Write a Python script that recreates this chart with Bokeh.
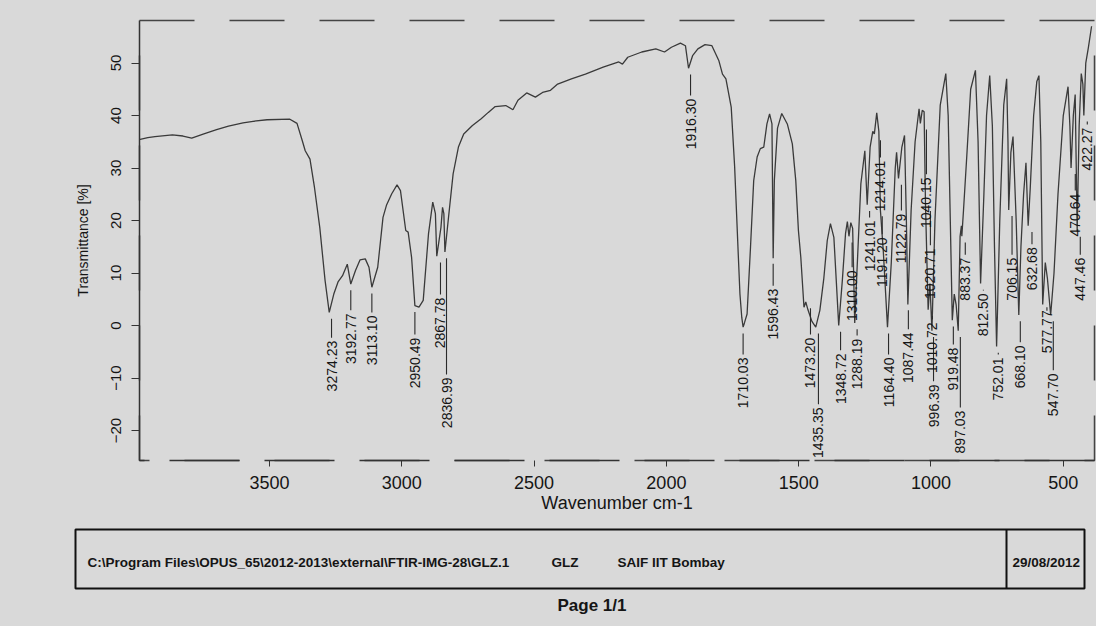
import numpy as np
from bokeh.plotting import figure
from bokeh.models import Range1d, FixedTicker, ColumnDataSource
from bokeh.layouts import column
from bokeh.embed import file_html
from bokeh.resources import INLINE
from bokeh.core.properties import value

# ---------------- data ----------------
wavenumber = [3993, 3960, 3933, 3867, 3827, 3794, 3748, 3700, 3655, 3600, 3562, 3509, 3423, 3396,
              3376, 3365, 3347, 3330, 3310, 3290, 3274.2, 3257, 3241, 3224, 3206, 3192.8, 3175,
              3158, 3138, 3124, 3113.1, 3091, 3071, 3058, 3038, 3018, 3005, 2985, 2976, 2963,
              2950.5, 2935, 2919, 2899, 2883, 2873, 2867.8, 2852, 2846, 2841, 2837, 2822, 2806,
              2786, 2766, 2733, 2700, 2673, 2647, 2607, 2580, 2561, 2528, 2495, 2468, 2438, 2411,
              2359, 2306, 2239, 2180, 2166, 2146, 2093, 2040, 2007, 1981, 1947, 1928, 1916.3,
              1901, 1881, 1854, 1828, 1802, 1788, 1775, 1755, 1742, 1729, 1722, 1715, 1710,
              1705, 1695, 1682, 1670, 1657, 1645, 1632, 1620, 1610, 1601, 1596.4, 1592, 1580,
              1564, 1543, 1524, 1511, 1501, 1492, 1480, 1473.2, 1465, 1450, 1435.4, 1420, 1405,
              1392, 1380, 1367, 1358, 1348.7, 1335, 1323, 1316, 1310, 1303, 1296, 1288.2, 1280,
              1265, 1250, 1241, 1230, 1220, 1214, 1205, 1197, 1191.2, 1180, 1164.4, 1150, 1135,
              1130, 1122.8, 1110, 1100, 1093, 1087.4, 1075, 1060, 1045, 1040.2, 1033, 1026,
              1020.7, 1010.7, 1004, 996.4, 985, 965, 944, 935, 925, 919.5, 912, 905, 897, 890,
              885, 883.4, 877, 865, 850, 832, 822, 812.5, 800, 790, 778, 768, 760, 752, 740,
              725, 714, 709, 706.2, 698, 690, 678, 668.1, 660, 650, 641, 632.7, 625, 612, 600,
              592, 585, 577.8, 568, 560, 547.7, 535, 520, 500, 482, 475, 470.6, 462, 455, 447.5,
              440, 432, 426, 422.3, 415, 405, 393]
transmittance = [35.4, 35.8, 36.0, 36.3, 36.1, 35.7, 36.5, 37.3, 38.0, 38.6, 38.9, 39.2, 39.3, 38.5,
                 35.2, 33.3, 31.7, 26.3, 18.7, 8.6, 2.5, 6.0, 8.3, 9.5, 11.7, 7.9, 10.5,
                 12.5, 12.7, 11.1, 7.3, 11.1, 20.6, 22.9, 25.1, 26.8, 25.7, 18.1, 17.8, 13.0,
                 3.8, 3.5, 4.8, 17.5, 23.5, 21.3, 13.2, 18.7, 22.5, 21.3, 14.0, 21.3, 28.9,
                 34.0, 36.5, 38.1, 39.4, 40.6, 41.7, 41.9, 41.1, 42.9, 44.3, 43.5, 44.4, 44.8, 46.0,
                 47.0, 47.9, 49.2, 50.2, 49.8, 51.1, 52.1, 52.7, 52.1, 53.0, 53.8, 53.3, 49.0,
                 51.4, 52.7, 53.5, 53.3, 50.5, 47.9, 47.0, 41.6, 30.2, 14.3, 6.0, 1.5, -0.3,
                 0.5, 2.2, 15.0, 27.6, 32.1, 33.7, 34.0, 38.4, 40.3, 38.4, 12.8, 27.6, 37.6,
                 40.4, 38.4, 34.6, 27.6, 18.1, 13.0, 3.5, 4.5, 3.0, 0.8, -0.3, 2.9, 9.0,
                 16.2, 19.4, 16.8, 8.6, 0.0, 8.6, 17.5, 19.8, 17.0, 19.6, 18.5, 0.5, 10.0,
                 27.0, 33.3, 23.0, 34.0, 37.0, 36.5, 40.5, 37.0, 22.0, 14.0, -0.3, 12.0, 30.0,
                 33.0, 28.0, 34.0, 36.2, 20.0, 4.0, 22.0, 35.0, 41.3, 38.5, 41.0, 40.7,
                 23.0, 3.0, 8.0, -1.0, 20.0, 42.0, 48.0, 40.0, 15.0, 1.0, 6.0, 4.0, -1.0, 17.0,
                 19.0, 17.0, 22.0, 32.0, 45.0, 48.6, 35.0, 8.0, 25.0, 40.0, 47.6, 38.0, 15.0, -4.0, 20.0,
                 42.0, 47.0, 35.0, 22.0, 33.0, 36.0, 20.0, 2.0, 15.0, 25.0, 31.0, 19.0, 26.0, 40.0, 46.5,
                 47.6, 35.0, 4.0, 12.0, 9.0, 2.0, 10.0, 25.0, 40.0, 45.5, 38.0, 30.0, 40.0, 44.0, 18.0,
                 38.0, 48.0, 46.0, 40.0, 50.0, 53.0, 57.0]

peak_text = ["3274.23", "3192.77", "3113.10", "2950.49", "2867.78", "2836.99", "1916.30",
             "1710.03", "1596.43", "1473.20", "1435.35", "1348.72", "1310.00", "1288.19",
             "1241.01", "1214.01", "1191.20", "1164.40", "1122.79", "1087.44", "1040.15",
             "1020.71", "1010.72", "996.39", "919.48", "897.03", "883.37", "812.50", "752.01",
             "706.15", "668.10", "632.68", "577.77", "547.70", "470.64", "447.46", "422.27"]
peak_wn = [float(t) for t in peak_text]

# label layout (offset of label column in cm-1, label top in % units)
label_shift = [-8.7, 0, 0, 0, -14, -6, -7.6, 0, 0, -17.8, -10, -7, -12, -9, -9, -23, -7, -4,
               -11, -2, -23, -18.5, -16, -6, -4, -8, -13, -10.6, -6.4, -12.5, -5.7, -14.4,
               -16, -10, -16, -11.7, -13]
label_top = [-2.9, 2.3, 1.9, -2.3, 5.3, -9.9, 43.2, -6.1, 7.0, -2.3, -15.6, -5.3, 10.5, -2.5,
             20.0, 31.4, 16.8, -6.1, 21.3, -1.3, 28.2, 14.7, 0.6, -11.2, -4.2, -16.2, 12.9,
             6.1, -6.1, 12.9, -3.8, 14.9, 2.9, -9.1, 25.1, 12.9, 37.7]

x_ticks = [3500, 3000, 2500, 2000, 1500, 1000, 500]
y_ticks = [-20, -10, 0, 10, 20, 30, 40, 50]

footer_path = "C:\\Program Files\\OPUS_65\\2012-2013\\external\\FTIR-IMG-28\\GLZ.1"
footer_sample = "GLZ"
footer_lab = "SAIF IIT Bombay"
footer_date = "29/08/2012"
footer_page = "Page 1/1"

# ---------------- styling ----------------
BG = "#d9d9d9"
INK = "#151515"
FONT = "Liberation Sans"

p = figure(width=1096, height=523, output_backend="svg", toolbar_location=None,
           x_range=Range1d(3991.3, 382.0), y_range=Range1d(-25.7, 58.1),
           min_border_left=139, min_border_right=2, min_border_top=20, min_border_bottom=63)
p.frame_align = False
p.background_fill_color = BG
p.border_fill_color = BG
p.grid.visible = False
p.outline_line_color = "#444444"
p.outline_line_width = 1.5
p.outline_line_dash = "55 35"

p.xaxis.ticker = FixedTicker(ticks=x_ticks)
p.yaxis.ticker = FixedTicker(ticks=y_ticks)
p.xaxis.minor_tick_line_color = None
p.yaxis.minor_tick_line_color = None
p.xaxis.axis_line_dash = "70 25"
p.xaxis.axis_line_color = "#333333"
p.xaxis.axis_line_width = 1.5
p.yaxis.axis_line_color = "#333333"
p.yaxis.axis_line_width = 1.5
p.xaxis.major_tick_out = 6
p.xaxis.major_tick_in = 0
p.yaxis.major_tick_out = 8
p.yaxis.major_tick_in = 0
p.xaxis.major_tick_line_color = "#333333"
p.yaxis.major_tick_line_color = "#333333"

p.xaxis.major_label_text_font = FONT
p.xaxis.major_label_text_font_size = "18px"
p.xaxis.major_label_text_color = INK
p.xaxis.major_label_standoff = 9
p.xaxis.axis_label = "Wavenumber cm-1"
p.xaxis.axis_label_text_font = FONT
p.xaxis.axis_label_text_font_size = "18px"
p.xaxis.axis_label_text_font_style = "normal"
p.xaxis.axis_label_text_color = INK
p.xaxis.axis_label_standoff = 1

p.yaxis.major_label_orientation = "vertical"
p.yaxis.major_label_text_font = FONT
p.yaxis.major_label_text_font_size = "15px"
p.yaxis.major_label_text_color = INK
p.yaxis.major_label_standoff = 10
p.yaxis.axis_label = "Transmittance [%]"
p.yaxis.axis_label_text_font = FONT
p.yaxis.axis_label_text_font_size = "14px"
p.yaxis.axis_label_text_font_style = "normal"
p.yaxis.axis_label_text_color = INK
p.yaxis.axis_label_standoff = 18

# spectrum
p.line(wavenumber, transmittance, line_color="#3a3a3a", line_width=1.3)

# peak labels with leader lines
lab_x = [w + s for w, s in zip(peak_wn, label_shift)]
curve_at_peak = np.interp(peak_wn[::-1], wavenumber[::-1], transmittance[::-1])[::-1]
lead_top = [c - 1.2 for c in curve_at_peak]
lead_bot = [t + 0.6 for t in label_top]
p.segment(x0=lab_x, y0=lead_top, x1=lab_x, y1=lead_bot, line_color="#2a2a2a", line_width=1.1)
src = ColumnDataSource(dict(x=lab_x, y=label_top, t=peak_text))
p.text(x="x", y="y", text="t", source=src, angle=np.pi / 2, text_align="right",
       text_baseline="middle", text_font=value(FONT), text_font_size="14px", text_color=INK)

# ---------------- footer (page information box) ----------------
f = figure(width=1096, height=103, output_backend="svg", toolbar_location=None,
           x_range=Range1d(0, 1096), y_range=Range1d(103, 0),
           x_axis_location=None, y_axis_location=None,
           min_border_left=0, min_border_right=0, min_border_top=0, min_border_bottom=0)
f.frame_align = False
f.background_fill_color = BG
f.border_fill_color = BG
f.outline_line_color = None
f.grid.visible = False
f.quad(left=[75], right=[1084], top=[6], bottom=[65], fill_color=None,
       line_color="#111111", line_width=2)
f.segment(x0=[1006], y0=[6], x1=[1006], y1=[65], line_color="#111111", line_width=2)
f.text(x=[87, 551, 617, 1012], y=[39, 39, 39, 39],
       text=[footer_path, footer_sample, footer_lab, footer_date],
       text_font=value(FONT), text_font_size="13.5px", text_font_style="bold",
       text_baseline="middle", text_align="left", text_color=INK)
f.text(x=[557], y=[82], text=[footer_page], text_font=value(FONT), text_font_size="17px",
       text_font_style="bold", text_baseline="middle", text_align="left", text_color=INK)

layout = column(p, f, spacing=0, styles={"background-color": BG})
open("out.html", "w").write(file_html(layout, INLINE))
